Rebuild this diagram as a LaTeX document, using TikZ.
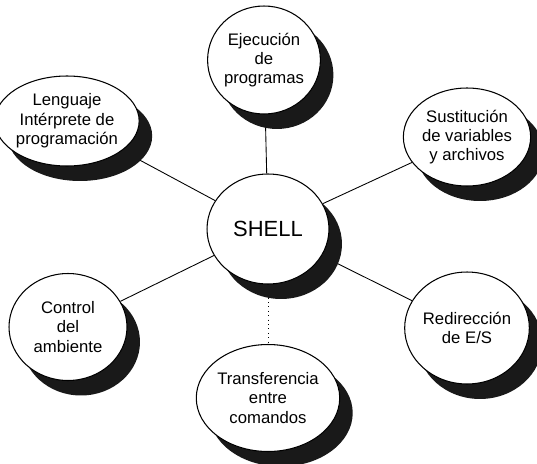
\documentclass[tikz,border=0pt]{standalone}
\usepackage{fontspec}
\setmainfont{Liberation Sans}
\usetikzlibrary{shapes.geometric,shadows,backgrounds}
\tikzset{
	bubble/.style={
			ellipse, draw, line width=0.6pt, fill=white, inner sep=0pt,
			align=center, font=\fontsize{9.5}{11}\selectfont,
			drop shadow={shadow xshift=0.26cm, shadow yshift=-0.3cm,
					fill=black!90, opacity=1}
		},
	link/.style={line width=0.5pt}
}

\begin{document}
\begin{tikzpicture}[x=0.02cm,y=-0.02cm]
		\useasboundingbox (0,0) rectangle (537,463);

		% centre
		\node[bubble, minimum width=2.44cm, minimum height=2.2cm,
			font=\fontsize{12.5}{14}\selectfont] (shell) at (268,229) {SHELL};

		% the six functions round it
		\node[bubble, minimum width=2.16cm, minimum height=2.16cm] (ejec) at (264,60)
		{Ejecución\\de\\programas};
		\node[bubble, minimum width=2.4cm, minimum height=1.8cm] (leng) at (67,121)
		{Lenguaje\\Intérprete de\\programación};
		\node[bubble, minimum width=2.32cm, minimum height=1.96cm] (sust) at (467,137)
		{Sustitución\\de variables\\y archivos};
		\node[bubble, minimum width=2.36cm, minimum height=2.14cm] (ctrl) at (68,327)
		{Control\\del\\ambiente};
		\node[bubble, minimum width=2.3cm, minimum height=2.24cm] (redir) at (467,328)
		{Redirección\\de E/S};
		\node[bubble, minimum width=2.28cm, minimum height=2.14cm] (transf) at (268,398)
		{Transferencia\\entre\\comandos};

		\begin{scope}[on background layer]
			\foreach \n in {ejec,leng,sust,ctrl,redir}
			\draw[link] (shell) -- (\n);
			\draw[link, dotted] (shell) -- (transf);
		\end{scope}

	\end{tikzpicture}
\end{document}
